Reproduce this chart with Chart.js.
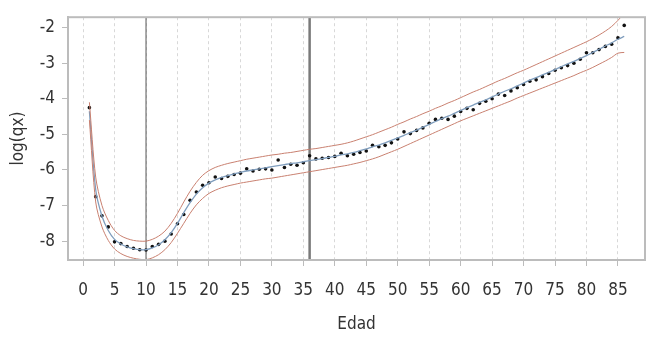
<!DOCTYPE html>
<html>
<head>
<meta charset="utf-8">
<script src="https://cdn.jsdelivr.net/npm/chart.js@4/dist/chart.umd.min.js"></script>
<style>
html,body{margin:0;padding:0;background:#fff;}
#wrap{width:650px;height:340px;position:relative;}
</style>
</head>
<body>
<div id="wrap"><canvas id="c" width="650" height="340"></canvas></div>
<script>
// ---- data ----
const ages = [1,2,3,4,5,6,7,8,9,10,11,12,13,14,15,16,17,18,19,20,21,22,23,24,25,26,27,28,29,30,31,32,33,34,35,36,37,38,39,40,41,42,43,44,45,46,47,48,49,50,51,52,53,54,55,56,57,58,59,60,61,62,63,64,65,66,67,68,69,70,71,72,73,74,75,76,77,78,79,80,81,82,83,84,85,86];
const observed = [-4.25,-6.75,-7.29,-7.6,-8.02,-8.07,-8.15,-8.2,-8.24,-8.25,-8.15,-8.09,-8.0,-7.8,-7.51,-7.25,-6.85,-6.62,-6.43,-6.36,-6.2,-6.24,-6.18,-6.13,-6.09,-5.97,-6.03,-5.98,-5.97,-6.0,-5.72,-5.93,-5.84,-5.87,-5.8,-5.6,-5.69,-5.67,-5.65,-5.62,-5.53,-5.6,-5.56,-5.51,-5.47,-5.31,-5.35,-5.31,-5.24,-5.13,-4.93,-4.98,-4.89,-4.82,-4.69,-4.58,-4.55,-4.58,-4.49,-4.36,-4.27,-4.31,-4.13,-4.07,-4.0,-3.87,-3.91,-3.78,-3.69,-3.6,-3.51,-3.47,-3.38,-3.29,-3.2,-3.13,-3.07,-3.0,-2.89,-2.71,-2.71,-2.62,-2.53,-2.47,-2.29,-1.94];
const fitted = [-4.35,-6.55,-7.3,-7.7,-7.95,-8.08,-8.16,-8.21,-8.24,-8.24,-8.19,-8.1,-7.96,-7.76,-7.5,-7.2,-6.92,-6.68,-6.5,-6.37,-6.28,-6.21,-6.16,-6.11,-6.07,-6.03,-6.0,-5.97,-5.94,-5.91,-5.88,-5.85,-5.82,-5.8,-5.77,-5.74,-5.71,-5.68,-5.65,-5.62,-5.58,-5.55,-5.51,-5.46,-5.41,-5.35,-5.3,-5.24,-5.17,-5.1,-5.03,-4.95,-4.88,-4.8,-4.72,-4.64,-4.56,-4.49,-4.41,-4.33,-4.25,-4.18,-4.1,-4.03,-3.95,-3.87,-3.79,-3.72,-3.64,-3.56,-3.48,-3.41,-3.33,-3.26,-3.18,-3.1,-3.02,-2.95,-2.87,-2.79,-2.7,-2.61,-2.52,-2.43,-2.33,-2.25];
const upper = [-4.1,-6.2,-7.0,-7.42,-7.7,-7.85,-7.93,-7.98,-8.0,-8.0,-7.95,-7.86,-7.72,-7.5,-7.22,-6.9,-6.6,-6.35,-6.15,-6.02,-5.93,-5.87,-5.82,-5.78,-5.74,-5.7,-5.67,-5.64,-5.61,-5.58,-5.56,-5.53,-5.51,-5.48,-5.45,-5.42,-5.4,-5.37,-5.34,-5.31,-5.28,-5.24,-5.19,-5.13,-5.07,-5.01,-4.94,-4.87,-4.8,-4.72,-4.65,-4.57,-4.5,-4.42,-4.35,-4.27,-4.2,-4.12,-4.05,-3.97,-3.89,-3.81,-3.74,-3.66,-3.58,-3.5,-3.43,-3.35,-3.27,-3.2,-3.12,-3.04,-2.96,-2.88,-2.8,-2.72,-2.64,-2.56,-2.48,-2.4,-2.31,-2.21,-2.1,-1.97,-1.8,-1.6];
const lower = [-4.6,-6.9,-7.6,-7.98,-8.22,-8.35,-8.43,-8.48,-8.51,-8.52,-8.47,-8.38,-8.24,-8.04,-7.78,-7.5,-7.22,-6.98,-6.8,-6.66,-6.57,-6.5,-6.45,-6.41,-6.37,-6.34,-6.31,-6.28,-6.25,-6.23,-6.2,-6.17,-6.14,-6.11,-6.08,-6.05,-6.02,-5.99,-5.96,-5.93,-5.9,-5.87,-5.83,-5.79,-5.74,-5.69,-5.63,-5.56,-5.49,-5.42,-5.34,-5.26,-5.18,-5.1,-5.02,-4.94,-4.86,-4.78,-4.7,-4.62,-4.55,-4.48,-4.41,-4.34,-4.27,-4.2,-4.13,-4.06,-3.98,-3.91,-3.84,-3.77,-3.7,-3.63,-3.56,-3.49,-3.42,-3.35,-3.27,-3.2,-3.12,-3.03,-2.94,-2.84,-2.72,-2.7];
const xTicks = [0,5,10,15,20,25,30,35,40,45,50,55,60,65,70,75,80,85];
const yTicks = [-8,-7,-6,-5,-4,-3,-2];
const refAges = [10, 36];
const xTitle = 'Edad';
const yTitle = 'log(qx)';

// ---- helpers ----
const pts = arr => ages.map((a, i) => ({x: a, y: arr[i]}));
const FONT = "'Liberation Sans Narrow', 'DejaVu Sans Condensed', 'Arial Narrow', sans-serif";
const TXT = '#333333';
const AX = '#bcbcbc';

const refLinesPlugin = {
  id: 'refLines',
  beforeDatasetsDraw(chart) {
    const {ctx, chartArea, scales} = chart;
    ctx.save();
    refAges.forEach((a, i) => {
      const px = scales.x.getPixelForValue(a);
      ctx.beginPath();
      ctx.strokeStyle = i === 0 ? '#555555' : '#7a7a7a';
      ctx.lineWidth = i === 0 ? 1 : 2.5;
      ctx.moveTo(px, chartArea.top);
      ctx.lineTo(px, chartArea.bottom);
      ctx.stroke();
    });
    ctx.restore();
  },
  afterDraw(chart) {
    const {ctx, chartArea} = chart;
    ctx.save();
    ctx.strokeStyle = AX;
    ctx.lineWidth = 2;
    ctx.strokeRect(chartArea.left, chartArea.top, chartArea.right - chartArea.left, chartArea.bottom - chartArea.top);
    ctx.restore();
  }
};

new Chart(document.getElementById('c'), {
  type: 'scatter',
  data: {
    datasets: [
      {label: 'upper', data: pts(upper), showLine: true, borderColor: '#c98070', borderWidth: 1, pointRadius: 0, tension: 0.3},
      {label: 'lower', data: pts(lower), showLine: true, borderColor: '#c98070', borderWidth: 1, pointRadius: 0, tension: 0.3},
      {label: 'fitted', data: pts(fitted), showLine: true, borderColor: '#7f9dbd', borderWidth: 1.3, pointRadius: 0, tension: 0.3},
      {label: 'observed', data: pts(observed), showLine: false, pointRadius: 1.8, pointBackgroundColor: '#111', pointBorderColor: '#111', pointBorderWidth: 0}
    ]
  },
  options: {
    responsive: false,
    animation: false,
    devicePixelRatio: 1,
    layout: {padding: {top: 4, right: 5, left: 0, bottom: 0}},
    plugins: {legend: {display: false}, tooltip: {enabled: false}},
    scales: {
      x: {
        type: 'linear', min: -2.4, max: 89.3,
        afterBuildTicks: s => { s.ticks = xTicks.map(v => ({value: v})); },
        afterFit: s => { s.height = 80; },
        ticks: {color: TXT, font: {family: FONT, size: 17}, padding: 14, maxRotation: 0, autoSkip: false},
        grid: {color: '#d8d8d8', lineWidth: 1, tickColor: AX, tickLength: 6, tickBorderDash: [], drawOnChartArea: true},
        border: {color: AX, width: 2, dash: [3, 3]},
        title: {display: true, text: xTitle, color: TXT, font: {family: FONT, size: 17}, padding: {top: 2, bottom: 5}}
      },
      y: {
        type: 'linear', min: -8.53, max: -1.71,
        afterBuildTicks: s => { s.ticks = yTicks.map(v => ({value: v})); },
        afterFit: s => { s.width = 68; },
        ticks: {color: TXT, font: {family: FONT, size: 17}, padding: 7},
        grid: {drawOnChartArea: false, tickColor: AX, tickLength: 6},
        border: {color: AX, width: 2},
        title: {display: true, text: yTitle, color: TXT, font: {family: FONT, size: 17}, padding: {top: 8, bottom: 4}}
      }
    }
  },
  plugins: [refLinesPlugin]
});
</script>
</body>
</html>
